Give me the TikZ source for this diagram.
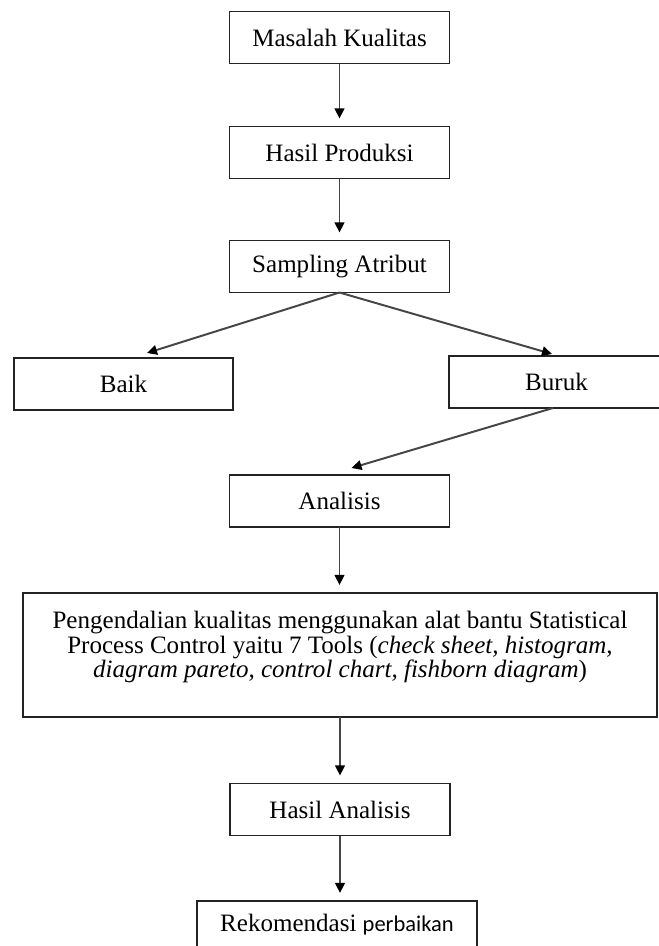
\documentclass[tikz,border=0pt]{standalone}
\usepackage{fontspec}
\setmainfont{Liberation Serif}
\newfontfamily\calibri{Carlito}
\usepackage{tikz}
\usetikzlibrary{arrows.meta,calc,positioning}
\definecolor{garis}{RGB}{35,35,35}
\definecolor{abuPanah}{RGB}{70,70,70}
\tikzstyle{kotak}=[rectangle, draw=garis, line width=1.3pt,
                   inner sep=0pt, outer sep=0pt,
                   minimum width=5.5cm, minimum height=1.3cm,
                   font=\fontsize{17.8}{16.4}\selectfont]
\tikzstyle{panah}=[-{Triangle[length=0.25cm,width=0.24cm,color=black]},
                   draw=abuPanah, line width=1.4pt, shorten >=0.2cm]

\begin{document}
\begin{tikzpicture}[x=0.025cm,y=-0.025cm]
    \useasboundingbox (0,0) rectangle (658,946);

    \draw (339.5,37.5) node (masalah) [kotak] {Masalah Kualitas};
    \draw (339.5,152.5) node (produksi) [kotak] {Hasil Produksi};
    \draw (339.5,266.5) node (sampling) [kotak] {Sampling Atribut};
    \draw (123.5,384) node (baik) [kotak, minimum width=5.475cm] {Baik};
    \draw (556.5,382) node (buruk) [kotak, minimum width=5.375cm] {Buruk};
    \draw (339.5,501) node (analisis) [kotak] {Analisis};
    \draw (340,655) node (spc) [kotak, minimum width=15.85cm, minimum height=3.1cm]
        {\raisebox{0.175cm}[\height][\depth]{\begin{tabular}{@{}c@{}}
        Pengendalian kualitas menggunakan alat bantu Statistical\\
        Process Control yaitu 7 Tools (\textit{check sheet, histogram,}\\
        \textit{diagram pareto, control chart, fishborn diagram})
        \end{tabular}}};
    \draw (340,809.5) node (hasil) [kotak] {Hasil Analisis};
    \draw (337,937) node (rek) [kotak, minimum width=7cm, minimum height=1.8cm]
        {\raisebox{0.3cm}[\height][\depth]{Rekomendasi {\calibri\fontsize{16}{16}\selectfont perbaikan}}};

    \foreach \i/\j in {masalah/produksi,produksi/sampling,analisis/spc,spc/hasil,hasil/rek}
        \draw [panah] (\i.south) -- (\i.south |- \j.north);

    \draw [panah, shorten >=0pt] (sampling.south) -- ($(baik.north)+(23.5,-5)$);
    \draw [panah, shorten >=0pt] (sampling.south) -- ($(buruk.north)+(-4.5,-2)$);
    \draw [panah, shorten >=0pt] ($(buruk.south)+(-3.5,0)$) -- ($(analisis.north)+(12,-7)$);

\end{tikzpicture}
\end{document}
